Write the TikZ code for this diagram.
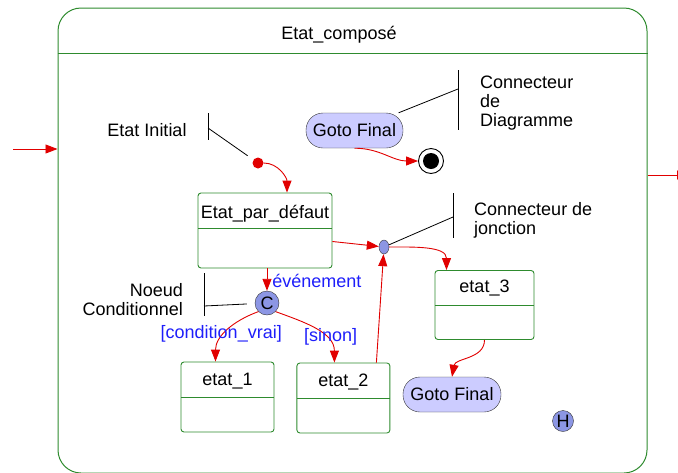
\documentclass[tikz,border=0pt]{standalone}
\usepackage{fontspec}
\setmainfont{Liberation Sans}
\usepackage{tikz}
\usetikzlibrary{shapes,arrows.meta,positioning,calc}
\usepackage{xcolor}
\definecolor{vert}{RGB}{46,139,46}
\definecolor{rouge}{RGB}{225,0,0}
\definecolor{bleu}{RGB}{30,30,250}
\definecolor{lavande}{RGB}{204,204,255}
\definecolor{bleupale}{RGB}{140,150,228}
\tikzset{
  composite/.style={rectangle, draw=vert, line width=1pt, rounded corners=23pt,
               minimum width=589pt, minimum height=465pt, inner sep=0pt},
  etat/.style={rectangle, draw=vert, line width=0.9pt, rounded corners=3pt,
               minimum width=93pt, inner sep=0pt, text height=23pt, text depth=47pt,
               path picture={\draw[vert, line width=0.9pt]
                 ([yshift=-35pt]path picture bounding box.north west) --
                 ([yshift=-35pt]path picture bounding box.north east);}},
  goto/.style={rectangle, draw=black!80, fill=lavande, rounded corners=17pt,
               minimum width=97pt, minimum height=35pt, inner sep=0pt},
  pseudoetat/.style={circle, draw=black!80, fill=bleupale, inner sep=0pt,
               minimum size=24pt},
  arr/.style={-{Triangle[length=12pt,width=9pt]}, line width=0.9pt, color=rouge},
  note/.style={draw=black, line width=0.8pt},
  texte/.style={inner sep=0pt},
  lbl/.style={text=bleu, inner sep=2pt},
}
\begin{document}
\begin{tikzpicture}[x=1pt, y=1pt, font=\fontsize{18}{19}\selectfont]
    \useasboundingbox (0,0) rectangle (678,-472);
    % etat compose
    \node[composite] (comp) at (352.5,-240.5) {};
    \coordinate (entete) at (0,-53);
    \draw[vert, line width=1pt] (comp.west |- entete) -- (comp.east |- entete);
    \node (titre) at (339,-35) {Etat\_composé};
    \coordinate (entree) at (13,-149);
    \coordinate (sortie) at (689,-175);
    \draw[arr] (entree) -- (entree -| comp.west);
    \draw[arr] (sortie -| comp.east) -- (sortie);

    % etats
    \node[etat, minimum width=134pt, text height=25pt, text depth=50pt] (defaut) at (265,-230.5) {Etat\_par\_défaut};
    \node[etat] (e1) at (227.5,-397) {etat\_1};
    \node[etat, right=22pt of e1, yshift=-1pt] (e2) {etat\_2};
    \node[etat, minimum width=99pt, text height=22pt] (e3) at (484.5,-305) {etat\_3};
    \node[goto] (gf1) at (354.5,-130.5) {Goto Final};
    \node[goto, minimum width=98pt] (gf2) at (452,-394.5) {Goto Final};

    % pseudo-etats
    \node[circle, fill=rouge, minimum size=11pt, inner sep=0pt] (init) at (258,-163) {};
    \node[circle, draw=black, line width=0.9pt, minimum size=25pt, inner sep=0pt] (fin) at (431,-161) {};
    \fill (fin) circle (8pt);
    \node[ellipse, draw=black!80, fill=bleupale, minimum width=10pt, minimum height=14pt, inner sep=0pt] (jct) at (384,-247) {};
    \node[pseudoetat] (C) at (267,-303) {C};
    \node[pseudoetat, minimum size=21pt] (H) at (563,-421) {H};

    % transitions
    \draw[arr] (init) to[out=0, in=90] ([xshift=22pt]defaut.north);
    \draw[arr] (gf1.south) to[out=0, in=180] (fin.west);
    \draw[arr] ([yshift=-11pt]defaut.east) -- (jct);
    \draw[arr] (jct.east) to[out=0, in=90] ([xshift=-38pt]e3.north);
    \draw[arr] ([xshift=33pt]e2.north) -- (jct);
    \draw[arr] (e3.south) to[out=-90, in=80] (gf2.north);
    \draw[arr] (defaut.south -| C) -- node[lbl, right, pos=0.55, xshift=3pt] {événement} (C);
    \draw[arr] (C.south west) to[out=200, in=90]
      node[lbl, pos=0.45, xshift=-9pt, yshift=-6pt] {[condition\_vrai]} ([xshift=-12pt]e1.north);
    \draw[arr] (C.south east) to[out=-20, in=90]
      node[lbl, pos=0.65, xshift=6pt] {[sinon]} ([xshift=-9pt]e2.north);

    % notes
    \coordinate (nI) at (208,-128);
    \coordinate (nD) at (458,-89);
    \coordinate (nJ) at (453,-217);
    \coordinate (nC) at (204,-306);
    \draw[note] ([yshift=15pt]nI) -- ([yshift=-12pt]nI);
    \draw[note, shorten >=7pt] (nI) -- (init);
    \draw[note] ([yshift=19pt]nD) -- ([yshift=-41pt]nD);
    \draw[note] (nD) -- (gf1);
    \draw[note] ([yshift=24pt]nJ) -- ([yshift=-21pt]nJ);
    \draw[note] (nJ) -- (jct);
    \draw[note] ([yshift=33pt]nC) -- ([yshift=-10pt]nC);
    \draw[note, shorten >=8pt] (nC) -- (C);
    \node[texte] (txtInit) at (147,-130) {Etat Initial};
    \node[texte, anchor=west, align=left] (txtDiag) at (480,-103) {Connecteur\\de\\Diagramme};
    \node[texte, anchor=west, align=left] (txtJonc) at (474,-220.5) {Connecteur de\\jonction};
    \node[texte, anchor=east, align=right] (txtNoeud) at (183,-299.5) {Noeud\\Conditionnel};
  \end{tikzpicture}
\end{document}
